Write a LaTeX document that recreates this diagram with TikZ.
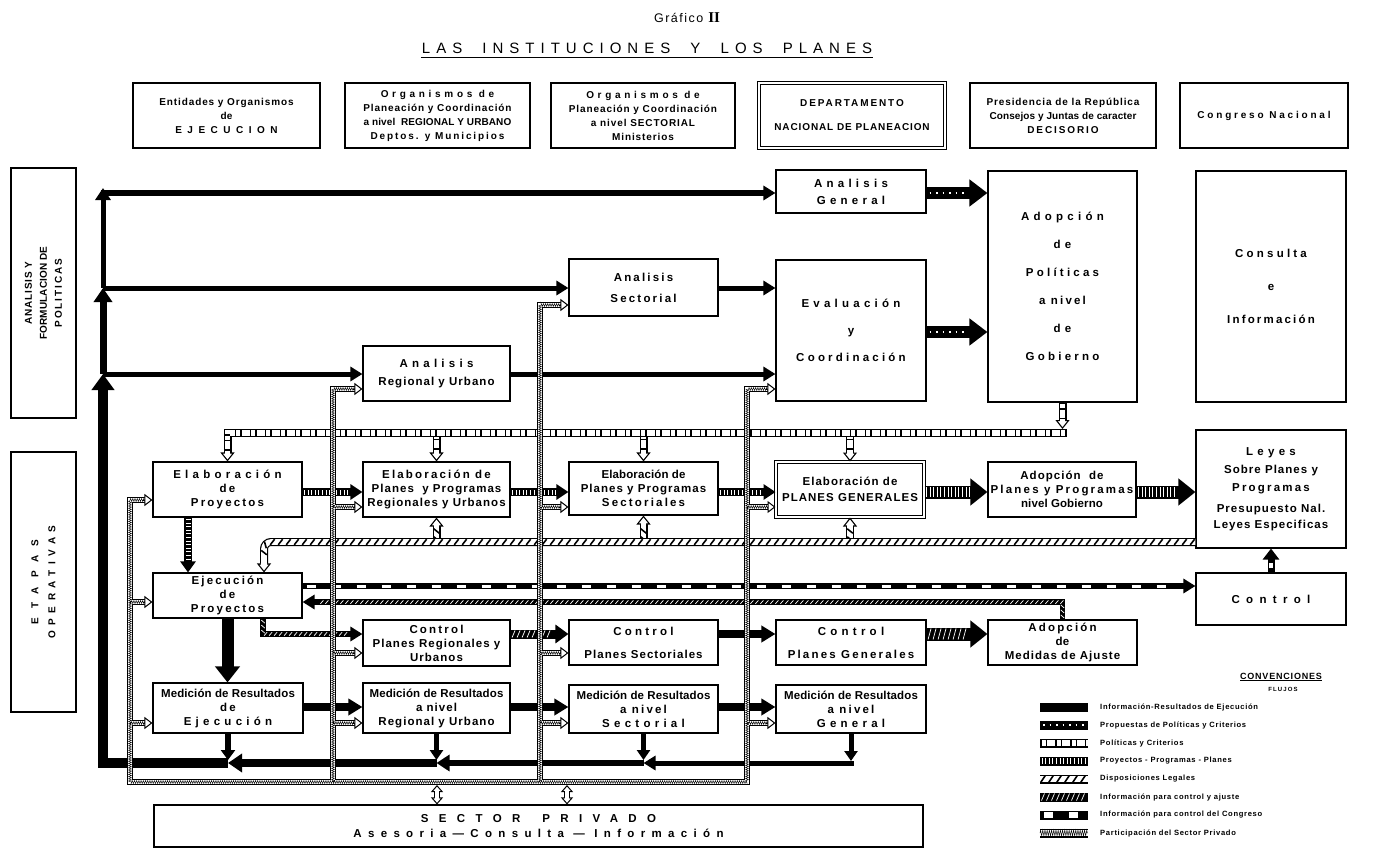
\documentclass[tikz,border=0pt]{standalone}
\usepackage{fontspec}
\setmainfont{Liberation Sans}
\newfontfamily\LSn{Liberation Sans Bold}[LetterSpace=1]
\newfontfamily\LSm{Liberation Sans Bold}[LetterSpace=9]
\newfontfamily\LSw{Liberation Sans Bold}[LetterSpace=19]
\newfontfamily\LSv{Liberation Sans Bold}[LetterSpace=28]
\newfontfamily\LSx{Liberation Sans Bold}[LetterSpace=37]
\newfontfamily\LSy{Liberation Sans Bold}[LetterSpace=55]
\newfontfamily\LSz{Liberation Sans Bold}[LetterSpace=90]
\newfontfamily\LStitle{Liberation Sans}[LetterSpace=40]
\newfontfamily\LSgraf{Liberation Sans}[LetterSpace=12]
\newfontfamily\LSserif{Liberation Serif Bold}
\newcommand\Tn[1]{{\LSn #1}}
\newcommand\Tm[1]{{\LSm #1}}
\newcommand\Tw[1]{{\LSw #1}}
\newcommand\Tv[1]{{\LSv #1}}
\newcommand\Tx[1]{{\LSx #1}}
\newcommand\Ty[1]{{\LSy #1}}
\newcommand\Tz[1]{{\LSz #1}}
\usetikzlibrary{arrows.meta,decorations.markings,decorations.pathmorphing,calc}

\tikzset{
  bx/.style={draw, line width=1.1pt, fill=white, inner sep=0pt, align=center,
     font=\LSn\fontsize{11.5}{14}\selectfont},
  hb/.style={font=\LSn\fontsize{10}{14}\selectfont},
  dbl/.style={double, double distance=1.8pt, line width=1pt},
  ah/.style 2 args={-{Triangle[length=#1,width=#2]}},
  oah/.style 2 args={-{Triangle[fill=white,length=#1,width=#2,line width=1.1pt]}},
  fres/.style={draw=black, line width=#1, line join=miter},
  fprop/.style 2 args={draw=black, line width=#1, line join=miter,
     postaction={draw=white, -, line width=1.3pt, dash pattern=on 1.5pt off 5pt, shorten >=#2+2pt, shorten <=3pt}},
  fpol/.style 2 args={draw=black, line width=#1, line join=miter,
     postaction={draw=white, -, line width=#1-2.4pt, shorten >=#2-1.5pt},
     postaction={draw=black, -, line width=#1-2.4pt, dash pattern=on 1.5pt off 4pt on 1.5pt off 8pt, shorten >=#2+1pt}},
  fproy/.style 2 args={draw=black, line width=#1, line join=miter,
     postaction={draw=white, -, line width=#1-3pt, dash pattern=on 1pt off 2.6pt, shorten >=#2+1pt, shorten <=1.5pt}},
  fdisp/.style 2 args={draw=black, line width=#1, line join=miter,
     postaction={draw=white, -, line width=#1-2.4pt, shorten >=#2-1.5pt},
     postaction={decorate, decoration={markings, mark=between positions 3pt and -#2-3pt step 8pt with {\draw[black, line width=1.6pt, -] (-2.2pt,-#1/2+1.2pt) -- (2.2pt,#1/2-1.2pt);}}}},
  fctl/.style 2 args={draw=black, line width=#1, line join=miter,
     postaction={decorate, decoration={markings, mark=between positions 3pt and -#2-3pt step 5pt with {\draw[white, line width=0.7pt, -] (-1.5pt,-#1/2+1pt) -- (1.5pt,#1/2-1pt);}}}},
  fcong/.style 2 args={draw=black, line width=#1, line join=miter,
     postaction={draw=white, -, line width=#1-3pt, dash pattern=on 9pt off 16pt, shorten >=#2+3pt, shorten <=4pt}},
  fpriv/.style={draw=black, line width=#1, line join=miter,
     postaction={draw=white, -, line width=#1-2.2pt},
     postaction={draw=black, -, line width=0.45pt, decorate, decoration={zigzag, amplitude=#1/2-1.6pt, segment length=2.2pt}}},
  fpriv/.default=6pt,
  ptip/.style={draw=black, line width=1pt, -{Triangle[fill=white,length=8pt,width=12pt]}},
  pdbl/.style={draw=black, line width=6pt, {Triangle[fill=white,length=7pt,width=12pt,line width=1pt]}-{Triangle[fill=white,length=7pt,width=12pt,line width=1pt]},
     postaction={draw=white, -, line width=3.8pt, shorten >=5.5pt, shorten <=5.5pt}},
  lg/.style={font=\LSm\fontsize{7.6}{8}\selectfont, inner sep=0pt, anchor=west},
}
\newcommand\bx[7][]{\node[bx,#1,minimum width={(#5-#3)*1pt},minimum height={(#6-#4)*1pt}] (#2) at ({(#3+#5)/2},{(#4+#6)/2}) {#7};}

\begin{document}
\begin{tikzpicture}[x=1pt,y=-1pt]
\fill[white] (0,0) rectangle (1374,848);
\useasboundingbox (0,0) rectangle (1374,848);

% levels
\coordinate (yA) at (0,193);
\coordinate (yB) at (0,288);
\coordinate (yBp) at (0,305);
\coordinate (yC) at (0,332);
\coordinate (yD) at (0,374);
\coordinate (yDp) at (0,389);
\coordinate (yPol) at (0,433);
\coordinate (yE) at (0,492);
\coordinate (yEp1) at (0,500);
\coordinate (yEp) at (0,507);
\coordinate (yDisp) at (0,542);
\coordinate (yCong) at (0,586);
\coordinate (yAdj) at (0,602);
\coordinate (yF) at (0,634);
\coordinate (yFp) at (0,653);
\coordinate (yG) at (0,707);
\coordinate (yGp) at (0,723);
\coordinate (yBot) at (0,763);
\coordinate (yPriv) at (0,782);
\coordinate (xV) at (103,0);
\coordinate (xP1) at (130,0);
\coordinate (xP2) at (333,0);
\coordinate (xP3) at (540,0);
\coordinate (xP4) at (747,0);
\coordinate (xDisp) at (264,0);
\coordinate (xPry) at (188,0);
\coordinate (xCtl) at (263,0);
\coordinate (xSPa) at (437,0);
\coordinate (xSPb) at (567,0);

% titles
\node[font=\LSgraf\fontsize{12.5}{14}\selectfont] (graf) at (687,18) {Gráfico {\LSserif\fontsize{15}{15}\selectfont II}};
\node[font=\LStitle\fontsize{15}{17}\selectfont, inner sep=1pt] (titulo) at (647,48) {LAS\hspace{10pt} INSTITUCIONES\hspace{10pt} Y\hspace{10pt} LOS\hspace{10pt} PLANES};
\draw[line width=1pt] ($(titulo.south west)+(0,3)$) -- ($(titulo.south east)+(0,3)$);

% header boxes
\bx[hb]{H1}{133}{83}{320}{148}{\Tm{Entidades y Organismos}\\ de\\ \Ty{EJECUCION}}
\bx[hb]{H2}{345}{83}{530}{148}{\Tx{Organismos de}\\ \Tm{Planeación y Coordinación}\\ a nivel\ \ REGIONAL Y URBANO\\ \Tw{Deptos. y Municipios}}
\bx[hb]{H3}{551}{83}{735}{148}{\Tx{Organismos de}\\ \Tm{Planeación y Coordinación}\\ \Tm{a nivel SECTORIAL}\\ \Tm{Ministerios}}
\bx[hb,dbl]{H4}{759}{83}{945}{148}{\Tw{DEPARTAMENTO}\\[10pt] \Tm{NACIONAL DE PLANEACION}}
\bx[hb]{H5}{970}{83}{1156}{148}{\Tm{Presidencia de la República}\\ Consejos y Juntas de caracter\\ \Tw{DECISORIO}}
\bx[hb]{H6}{1180}{83}{1348}{148}{\Tv{Congreso Nacional}}

% side labels
\node[bx, rotate=90, minimum width=250pt, minimum height=65pt, font=\LSm\fontsize{10}{15}\selectfont] (LAn) at (43.5,293) {ANALISIS Y\\ \Tn{FORMULACION DE}\\ \Tw{POLITICAS}};
\node[bx, rotate=90, minimum width=260pt, minimum height=65pt, font=\LSy\fontsize{10}{17}\selectfont] (LEt) at (43.5,582) {\Tz{ETAPAS}\\ OPERATIVAS};

% main boxes
\bx{AnGen}{776}{170}{926}{213}{\Tx{Analisis}\\[3pt] \Tx{General}}
\bx{AnSec}{569}{259}{718}{316}{\Tw{Analisis}\\[7pt] \Tw{Sectorial}}
\bx{AnReg}{363}{346}{510}{401}{\Tx{Analisis}\\[4pt] \Tm{Regional y Urbano}}
\bx{Eval}{776}{260}{926}{401}{\Tx{Evaluación}\\[13pt] y\\[13pt] \Tv{Coordinación}}
\bx{AdopPol}{988}{171}{1137}{402}{\Tx{Adopción}\\[14pt] \Tx{de}\\[14pt] \Tv{Políticas}\\[14pt] \Tw{a nivel}\\[14pt] \Tx{de}\\[14pt] \Tv{Gobierno}}
\bx{Consulta}{1196}{171}{1346}{402}{\Tv{Consulta}\\[19pt] e\\[19pt] \Tw{Información}}

\bx{ElabProy}{153}{462}{302}{517}{\Tx{Elaboración}\\ \Tw{de}\\ \Tw{Proyectos}}
\bx{ElabReg}{363}{462}{510}{517}{\Tw{Elaboración de}\\ \Tm{Planes\ \ y Programas}\\ \Tm{Regionales y Urbanos}}
\bx{ElabSec}{569}{462}{718}{515}{\Tn{Elaboración de}\\ \Tm{Planes y Programas}\\ \Tw{Sectoriales}}
\bx[dbl]{ElabGen}{776}{462}{924}{517}{\Tm{Elaboración de}\\[2pt] \Tm{PLANES GENERALES}}
\bx{AdopPlan}{988}{462}{1136}{517}{\Tm{Adopción\ \ de}\\ \Tw{Planes y Programas}\\ \Tn{nivel Gobierno}}
\bx{Leyes}{1196}{430}{1346}{548}{\Tx{Leyes}\\[4pt] \Tm{Sobre Planes y}\\[4pt] \Tw{Programas}\\[7pt] \Tm{Presupuesto Nal.}\\[2pt] \Tm{Leyes Especificas}}

\bx{Ejec}{153}{573}{302}{618}{\Tw{Ejecución}\\ \Tw{de}\\ \Tw{Proyectos}}
\bx{Control}{1196}{573}{1346}{625}{\Ty{Control}}

\bx{CtlReg}{363}{620}{510}{666}{\Tw{Control}\\ \Tm{Planes Regionales y}\\ \Tm{Urbanos}}
\bx{CtlSec}{569}{620}{718}{665}{\Tv{Control}\\[9pt] \Tm{Planes Sectoriales}}
\bx{CtlGen}{776}{620}{926}{665}{\Tx{Control}\\[9pt] \Tw{Planes Generales}}
\bx{AdopMed}{988}{620}{1137}{665}{\Tw{Adopción}\\ de\\ \Tm{Medidas de Ajuste}}

\bx{MedEj}{153}{683}{303}{733}{Medición de Resultados\\ \Tw{de}\\ \Tx{Ejecución}}
\bx{MedReg}{363}{683}{510}{733}{Medición de Resultados\\ \Tm{a nivel}\\ \Tm{Regional y Urbano}}
\bx{MedSec}{569}{685}{718}{733}{Medición de Resultados\\ \Tw{a nivel}\\ \Tx{Sectorial}}
\bx{MedGen}{776}{685}{926}{733}{Medición de Resultados\\ \Tw{a nivel}\\ \Tx{General}}

\bx{SP}{154}{805}{923}{847}{\Tz{SECTOR\hspace{22pt}PRIVADO}\\[1pt] \Ty{Asesoria—Consulta — Información}}

% ---------- black flows (resultados)
\draw[fres=8pt, ah={14pt}{18pt}] (MedReg.south |- yBot) -- (MedEj.south |- yBot);
\draw[fres=6.5pt, ah={13pt}{16pt}] (MedSec.south |- yBot) -- (MedReg.south |- yBot);
\draw[fres=5pt, ah={12pt}{14pt}] ($(MedGen.south |- yBot)+(2.5,0)$) -- (MedSec.south |- yBot);
\draw[fres=10pt, ah={16pt}{22pt}] (MedEj.south |- yBot) -- (xV |- yBot) -- (xV |- yD);
\draw[fres=7pt, ah={14pt}{18pt}] (xV |- yD) -- (xV |- yB);
\draw[fres=5pt, ah={12pt}{15pt}] (xV |- yB) -- ($(xV |- yA)+(0,-5)$);
\draw[fres=5pt, ah={12pt}{14pt}] ($(xV |- yA)+(-2.5,0)$) -- (AnGen.west |- yA);
\draw[fres=5pt, ah={12pt}{14pt}] (xV |- yB) -- (AnSec.west |- yB);
\draw[fres=5pt, ah={12pt}{14pt}] (xV |- yD) -- (AnReg.west |- yD);
\draw[fres=5pt, ah={12pt}{14pt}] (AnReg.east |- yD) -- (Eval.west |- yD);
\draw[fres=5pt, ah={12pt}{14pt}] (AnSec.east |- yB) -- (Eval.west |- yB);
\draw[fres=6pt, ah={10pt}{14pt}] (MedEj.south) -- ($(MedEj.south |- yBot)+(0,-3)$);
\draw[fres=5pt, ah={10pt}{13pt}] (MedReg.south) -- ($(MedReg.south |- yBot)+(0,-3)$);
\draw[fres=5pt, ah={10pt}{13pt}] (MedSec.south) -- ($(MedSec.south |- yBot)+(0,-3)$);
\draw[fres=5pt, ah={10pt}{13pt}] (MedGen.south) -- ($(MedGen.south |- yBot)+(0,-2)$);
\draw[fres=12pt, ah={16pt}{24pt}] (Ejec.south) -- (Ejec.south |- MedEj.north);
\draw[fres=8pt, ah={14pt}{16pt}] (MedEj.east |- yG) -- (MedReg.west |- yG);
\draw[fres=8pt, ah={14pt}{16pt}] (MedReg.east |- yG) -- (MedSec.west |- yG);
\draw[fres=8pt, ah={14pt}{16pt}] (MedSec.east |- yG) -- (MedGen.west |- yG);
\draw[fres=8pt, ah={14pt}{16pt}] (CtlSec.east |- yF) -- (CtlGen.west |- yF);

% ---------- propuestas
\draw[fprop={12pt}{18pt}, ah={18pt}{26pt}] (AnGen.east |- yA) -- (AdopPol.west |- yA);
\draw[fprop={12pt}{18pt}, ah={18pt}{26pt}] (Eval.east |- yC) -- (AdopPol.west |- yC);

% ---------- proyectos - programas - planes
\draw[fproy={8pt}{12pt}, ah={12pt}{15pt}] (ElabProy.east |- yE) -- (ElabReg.west |- yE);
\draw[fproy={8pt}{12pt}, ah={12pt}{15pt}] (ElabReg.east |- yE) -- (ElabSec.west |- yE);
\draw[fproy={8pt}{12pt}, ah={12pt}{15pt}] (ElabSec.east |- yE) -- (ElabGen.west |- yE);
\draw[fproy={13pt}{17pt}, ah={17pt}{26pt}] (ElabGen.east |- yE) -- (AdopPlan.west |- yE);
\draw[fproy={13pt}{17pt}, ah={17pt}{26pt}] (AdopPlan.east |- yE) -- (Leyes.west |- yE);
\draw[fproy={8pt}{11pt}, ah={11pt}{15pt}] (xPry |- ElabProy.south) -- (xPry |- Ejec.north);

% ---------- politicas y criterios
\draw[fpol={8pt}{9pt}, oah={9pt}{14pt}] (ElabReg.north |- yPol) -- (ElabReg.north);
\draw[fpol={8pt}{9pt}, oah={9pt}{14pt}] (ElabSec.north |- yPol) -- (ElabSec.north);
\draw[fpol={8pt}{9pt}, oah={9pt}{14pt}] (ElabGen.north |- yPol) -- (ElabGen.north);
\draw[fpol={8pt}{9pt}, oah={9pt}{14pt}] ($(AdopPol.south |- yPol)+(4,0)$) -- (ElabProy.north |- yPol) -- (ElabProy.north);
\draw[fpol={8pt}{9pt}, oah={9pt}{14pt}] (AdopPol.south) -- ($(AdopPol.south |- yPol)+(0,-4)$);

% ---------- disposiciones legales
\draw[fdisp={8pt}{9pt}, oah={9pt}{14pt}] (ElabReg.south |- yDisp) -- (ElabReg.south);
\draw[fdisp={8pt}{9pt}, oah={9pt}{14pt}] (ElabSec.south |- yDisp) -- (ElabSec.south);
\draw[fdisp={8pt}{9pt}, oah={9pt}{14pt}] (ElabGen.south |- yDisp) -- (ElabGen.south);
\draw[fdisp={8pt}{9pt}, oah={9pt}{14pt}, rounded corners=7pt] (Leyes.west |- yDisp) -- (xDisp |- yDisp) -- (xDisp |- Ejec.north);

% ---------- control y ajuste
\draw[fctl={5.5pt}{12pt}, ah={12pt}{14pt}] (AdopMed.north) -- (AdopMed.north |- yAdj) -- (Ejec.east |- yAdj);
\draw[fctl={5.5pt}{12pt}, ah={12pt}{14pt}] (xCtl |- Ejec.south) -- (xCtl |- yF) -- (CtlReg.west |- yF);
\draw[fctl={9pt}{13pt}, ah={13pt}{18pt}] (CtlReg.east |- yF) -- (CtlSec.west |- yF);
\draw[fctl={13pt}{17pt}, ah={17pt}{26pt}] (CtlGen.east |- yF) -- (AdopMed.west |- yF);

% ---------- control del congreso
\draw[fcong={6pt}{12pt}, ah={12pt}{14pt}] (Ejec.east |- yCong) -- (Control.west |- yCong);
\draw[fcong={7pt}{11pt}, ah={11pt}{16pt}] (Control.north) -- (Leyes.south);

% ---------- sector privado
\draw[fpriv]
  ($(ElabProy.west |- yEp1)+(-7,0)$) -- (xP1 |- yEp1) -- (xP1 |- yPriv) -- (xP4 |- yPriv) -- (xP4 |- yDp) -- ($(Eval.west |- yDp)+(-7,0)$)
  (xP2 |- yPriv) -- (xP2 |- yDp) -- ($(AnReg.west |- yDp)+(-7,0)$)
  (xP3 |- yPriv) -- (xP3 |- yBp) -- ($(AnSec.west |- yBp)+(-7,0)$)
  (xP1 |- yAdj) -- ($(Ejec.west |- yAdj)+(-7,0)$)
  (xP1 |- yGp) -- ($(MedEj.west |- yGp)+(-7,0)$)
  (xP2 |- yEp) -- ($(ElabReg.west |- yEp)+(-7,0)$)
  (xP2 |- yFp) -- ($(CtlReg.west |- yFp)+(-7,0)$)
  (xP2 |- yGp) -- ($(MedReg.west |- yGp)+(-7,0)$)
  (xP3 |- yEp) -- ($(ElabSec.west |- yEp)+(-7,0)$)
  (xP3 |- yFp) -- ($(CtlSec.west |- yFp)+(-7,0)$)
  (xP3 |- yGp) -- ($(MedSec.west |- yGp)+(-7,0)$)
  (xP4 |- yEp) -- ($(ElabGen.west |- yEp)+(-7,0)$)
  (xP4 |- yGp) -- ($(MedGen.west |- yGp)+(-7,0)$);
\foreach \nm/\lv in {ElabProy/yEp1, Eval/yDp, AnReg/yDp, AnSec/yBp, Ejec/yAdj, MedEj/yGp, ElabReg/yEp, CtlReg/yFp, MedReg/yGp, ElabSec/yEp, CtlSec/yFp, MedSec/yGp, ElabGen/yEp, MedGen/yGp}
  \draw[ptip] ($(\nm.west |- \lv)+(-9,0)$) -- (\nm.west |- \lv);
\draw[pdbl] ($(xSPa |- yPriv)+(0,3)$) -- (xSPa |- SP.north);
\draw[pdbl] ($(xSPb |- yPriv)+(0,3)$) -- (xSPb |- SP.north);

% ---------- legend
\node[font=\LSm\fontsize{9}{9}\selectfont, inner sep=0pt] (conv) at (1281,677) {\underline{CONVENCIONES}};
\node[font=\LSw\fontsize{6}{6}\selectfont, inner sep=0pt] (flujos) at (1283,689) {FLUJOS};
\draw[fres=9pt] (1040,707) -- (1088,707);
\draw[fprop={9pt}{0pt}] (1040,725) -- (1088,725);
\draw[fpol={9pt}{1.5pt}] (1040,743) -- (1088,743);
\draw[fproy={9pt}{0pt}] (1040,761) -- (1088,761);
\draw[fdisp={9pt}{1.5pt}] (1040,779) -- (1088,779);
\draw[fctl={9pt}{0pt}] (1040,797) -- (1088,797);
\draw[fcong={9pt}{-3pt}] (1040,815) -- (1088,815);
\draw[fpriv=9pt] (1040,833) -- (1088,833);
\node[lg] (l1) at (1100,707) {Información-Resultados de Ejecución};
\node[lg] (l2) at (1100,725) {Propuestas de Políticas y Criterios};
\node[lg] (l3) at (1100,743) {Políticas y Criterios};
\node[lg] (l4) at (1100,761) {Proyectos - Programas - Planes};
\node[lg] (l5) at (1100,779) {Disposiciones Legales};
\node[lg] (l6) at (1100,797) {Información para control y ajuste};
\node[lg] (l7) at (1100,815) {Información para control del Congreso};
\node[lg] (l8) at (1100,833) {Participación del Sector Privado};
\end{tikzpicture}
\end{document}
